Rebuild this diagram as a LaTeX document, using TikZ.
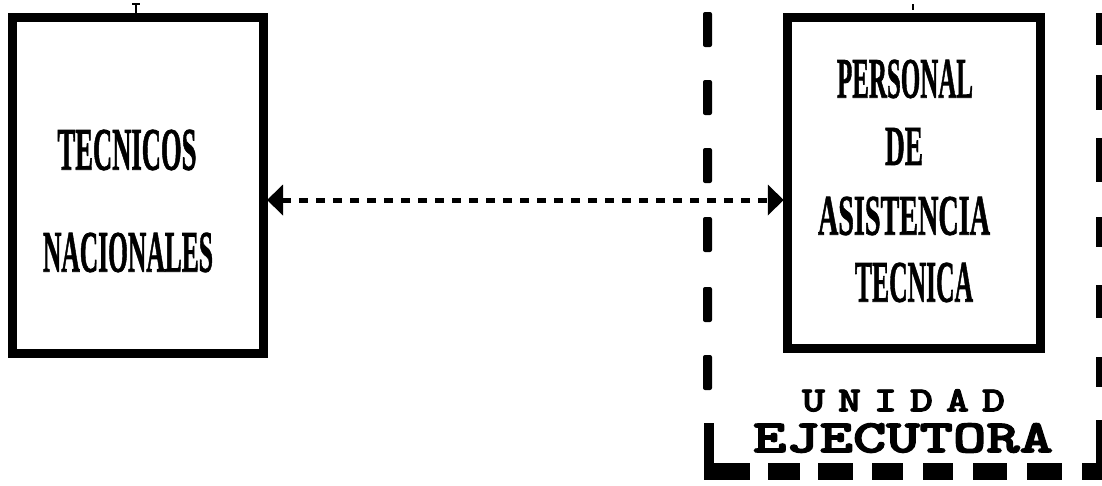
\documentclass[tikz,border=0pt]{standalone}
\usepackage{fontspec}
\usetikzlibrary{arrows.meta}
\newfontfamily\boxfont{Liberation Serif Bold}[FakeBold=1.5]
\newfontfamily\monob{lmmonolt10-bold.otf}[FakeBold=2.5]
\newcommand{\fitt}[3]{\resizebox{#1pt}{#2pt}{#3}}
\begin{document}
\begin{tikzpicture}[x=1pt,y=-1pt,
  box/.style={draw=black,line width=9pt,minimum width=#1,inner sep=0pt},
  lbl/.style={inner sep=0pt,font=\boxfont},
  ulbl/.style={inner sep=0pt,font=\monob},
  link/.style={line width=5pt,dash pattern=on 9pt off 8pt,
     {Triangle[length=16pt,width=30pt]}-{Triangle[length=16pt,width=30pt]}, shorten <=-1pt, shorten >=-1pt}]
\useasboundingbox (0,0) rectangle (1102,485);
\fill[white] (0,0) rectangle (1102,485);

% boxes
\node[box=251pt,minimum height=336pt] (left) at (138,185.5) {};
\node[box=253.5pt,minimum height=331pt] (right) at (914,182.5) {};

% texts
\node[lbl] (t1) at (127,150) {\fitt{139}{40}{TECNICOS}};
\node[lbl] (t2) at (128,252.5) {\fitt{170}{39}{NACIONALES}};
\node[lbl] (t3) at (905,79) {\fitt{136}{38}{PERSONAL}};
\node[lbl] (t4) at (904,146.5) {\fitt{38}{37}{DE}};
\node[lbl] (t5) at (904,216) {\fitt{172}{38}{ASISTENCIA}};
\node[lbl] (t6) at (914,282.5) {\fitt{118}{39}{TECNICA}};
\node[ulbl] (u1) at (903.5,400.5) {\fitt{203}{22}{U\kern0.3em N\kern0.3em I\kern0.3em D\kern0.3em A\kern0.3em D}};
\node[ulbl] (u2) at (903,438) {\fitt{300}{29}{EJECUTORA}};

% connector
\draw[link] ([yshift=-14.5pt]left.east) -- ([yshift=-17.5pt]right.west);

% small ticks on top of boxes
\draw[line width=2pt] (136,4) -- (136,13);
\draw[line width=1.5pt] (132,4) -- (140,4);
\draw[line width=2pt] (913,4) -- (913,10);

% dashed frame (Unidad Ejecutora)
\foreach \a/\b in {12/47,80/115,148/183,217/252,287/322,355/390}
  \fill[rounded corners=2pt] (703,\a) rectangle (712,\b);
\fill (704,423) rectangle (714,480);
\fill (704,463) rectangle (750,480);
\foreach \a/\b in {768/800,818/853,872/903,923/953,973/1007,1027/1062,1082/1102}
  \fill (\a,463) rectangle (\b,480);
\foreach \a/\b in {13/45,75/110,138/182,217/247,285/318,357/387,420/480}
  \fill (1096,\a) rectangle (1102,\b);
\end{tikzpicture}
\end{document}
